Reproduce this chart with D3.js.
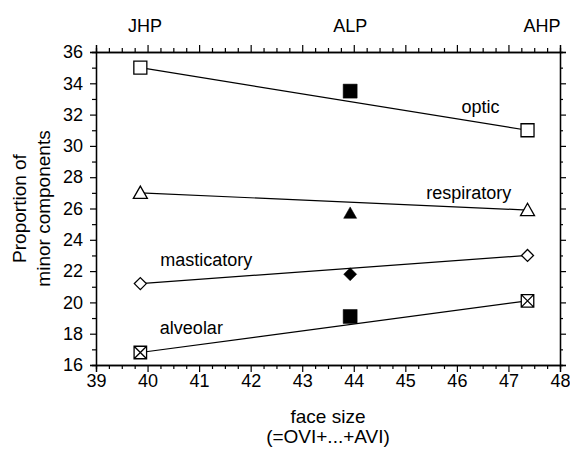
<!DOCTYPE html>
<html>
<head>
<meta charset="utf-8">
<script src="https://cdn.jsdelivr.net/npm/d3@7"></script>
<style>
  html, body { margin: 0; padding: 0; background: #fff; }
  svg { display: block; font-family: "Liberation Sans", Arial, sans-serif; }
</style>
</head>
<body>
<svg id="chart" width="570" height="451"></svg>
<script>
// ---- data ----
const groupLabels = ["JHP", "ALP", "AHP"];
const faceSize = [39.86, 43.93, 47.37];           // x value of each group
const groupLabelX = [39.95, 43.93, 47.65];         // where top labels sit
const seriesNames = ["optic", "respiratory", "masticatory", "alveolar"];
const optic = [35.0, 33.5, 31.0];
const respiratory = [27.0, 25.7, 25.9];
const masticatory = [21.2, 21.8, 23.0];
const alveolar = [16.8, 19.1, 20.1];
const xTicks = [39, 40, 41, 42, 43, 44, 45, 46, 47, 48];
const yTicks = [16, 18, 20, 22, 24, 26, 28, 30, 32, 34, 36];
// series label anchor (data units)
const labelX = [46.46, 46.23, 41.14, 40.85];
const labelY = [32.49, 27.0, 22.73, 18.39];
const markerShape = ["square", "triangle", "diamond", "xsquare"];
const filledShape = ["square", "triangle", "diamond", "square"];

const seriesValues = [optic, respiratory, masticatory, alveolar];

// ---- layout ----
const svg = d3.select("#chart");
const L = 96, R = 560, T = 52, B = 365;
const x = d3.scaleLinear().domain([39, 48]).range([L, R]);
const y = d3.scaleLinear().domain([16, 36]).range([B, T]);
const FS = 18;

function shapePath(shape, s) {
  const h = s / 2;
  if (shape === "square" || shape === "xsquare") {
    let p = `M${-h},${-h}H${h}V${h}H${-h}Z`;
    if (shape === "xsquare") p += `M${-h},${-h}L${h},${h}M${h},${-h}L${-h},${h}`;
    return p;
  }
  if (shape === "triangle") {
    const th = s * 0.88;
    return `M0,${-th * 0.55}L${h},${th * 0.45}L${-h},${th * 0.45}Z`;
  }
  if (shape === "diamond") {
    return `M0,${-h}L${h},0L0,${h}L${-h},0Z`;
  }
}
const openSize = { square: 13, triangle: 14, diamond: 12, xsquare: 12.5 };
const filledSize = { square: 14, triangle: 13, diamond: 13 };

// ---- axes ----
const minorX = d3.range(39, 48.001, 0.25).filter(v => Math.abs(v - Math.round(v)) > 1e-6);
const minorY = d3.range(17, 36, 2);

svg.append("g").attr("transform", `translate(0,${B})`)
  .call(d3.axisBottom(x).tickValues(xTicks).tickSize(7).tickPadding(2).tickFormat(d3.format("d")));
svg.append("g").attr("transform", `translate(0,${B})`)
  .call(d3.axisBottom(x).tickValues(minorX).tickSize(4).tickFormat(""));
svg.append("g").attr("transform", `translate(0,${T})`)
  .call(d3.axisTop(x).tickValues(xTicks).tickSize(7).tickFormat(""));
svg.append("g").attr("transform", `translate(0,${T})`)
  .call(d3.axisTop(x).tickValues(minorX).tickSize(4).tickFormat(""));
svg.append("g").attr("transform", `translate(${L},0)`)
  .call(d3.axisLeft(y).tickValues(yTicks).tickSize(6).tickPadding(7).tickFormat(d3.format("d")));
svg.append("g").attr("transform", `translate(${L},0)`)
  .call(d3.axisLeft(y).tickValues(minorY).tickSize(4).tickFormat(""));
svg.append("g").attr("transform", `translate(${R},0)`)
  .call(d3.axisRight(y).tickValues(yTicks).tickSize(6).tickFormat(""));
svg.append("g").attr("transform", `translate(${R},0)`)
  .call(d3.axisRight(y).tickValues(minorY).tickSize(3).tickFormat(""));

svg.selectAll(".domain").attr("stroke", "#000").attr("stroke-width", 1.3);
svg.selectAll(".tick line").attr("stroke", "#000").attr("stroke-width", 1.2);
svg.selectAll(".tick text").attr("font-size", FS).attr("fill", "#000")
  .attr("font-family", "Liberation Sans, Arial, sans-serif");

// top group labels
svg.append("g").selectAll("text").data(groupLabels).join("text")
  .attr("x", (d, i) => x(groupLabelX[i]))
  .attr("y", 31.5)
  .attr("text-anchor", "middle")
  .attr("font-size", FS)
  .text(d => d);

// axis titles
svg.append("text").attr("x", (L + R) / 2).attr("y", 423).attr("text-anchor", "middle")
  .attr("font-size", 19).text("face size");
svg.append("text").attr("x", (L + R) / 2).attr("y", 443).attr("text-anchor", "middle")
  .attr("font-size", 19).text("(=OVI+...+AVI)");
const yt = svg.append("text").attr("transform", `translate(0,${(T + B) / 2}) rotate(-90)`)
  .attr("text-anchor", "middle").attr("font-size", 19);
yt.append("tspan").attr("x", 0).attr("y", 26).text("Proportion of");
yt.append("tspan").attr("x", 0).attr("y", 50).text("minor components");

// ---- series ----
const gS = svg.append("g");
seriesValues.forEach((vals, i) => {
  const shape = markerShape[i];
  gS.append("line")
    .attr("x1", x(faceSize[0])).attr("y1", y(vals[0]))
    .attr("x2", x(faceSize[2])).attr("y2", y(vals[2]))
    .attr("stroke", "#000").attr("stroke-width", 1.2);
  [0, 2].forEach(j => {
    gS.append("path")
      .attr("transform", `translate(${x(faceSize[j])},${y(vals[j])})`)
      .attr("d", shapePath(shape, openSize[shape]))
      .attr("fill", "#fff").attr("stroke", "#000").attr("stroke-width", 1.3);
  });
  const fs = filledShape[i];
  gS.append("path")
    .attr("transform", `translate(${x(faceSize[1])},${y(vals[1])})`)
    .attr("d", shapePath(fs, filledSize[fs]))
    .attr("fill", "#000").attr("stroke", "#000").attr("stroke-width", 0.5);
  gS.append("text")
    .attr("x", x(labelX[i])).attr("y", y(labelY[i]))
    .attr("dy", "0.35em")
    .attr("text-anchor", "middle")
    .attr("font-size", FS)
    .text(seriesNames[i]);
});
</script>
</body>
</html>
